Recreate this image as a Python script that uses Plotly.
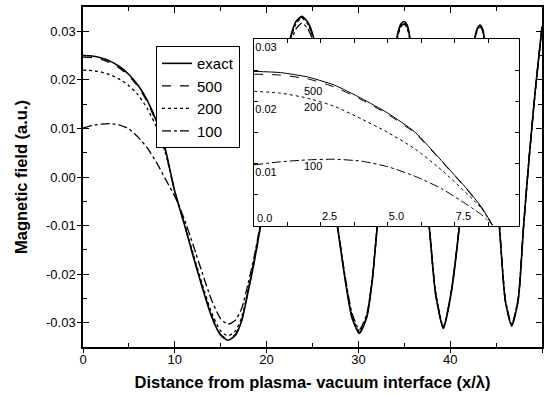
import plotly.graph_objects as go

# ---------------- data ----------------
x_main = [0, 1, 2, 3, 4, 5, 6, 7, 8, 9, 10, 11, 12, 13, 14, 15, 15.8,
          16.6, 17.3, 18, 18.6, 19.4,
          20.3, 21.2, 22.0, 22.6, 23.2, 23.85, 24.5, 25.1, 25.8, 26.5,
          27.0, 27.7, 28.5, 29.3, 30.1, 30.9, 31.5, 32.06, 32.7, 33.4,
          34.2, 34.6, 34.97, 35.3, 35.6, 36.3, 37.0, 37.7, 38.4, 39.25,
          40.1, 41.0, 41.7, 42.2, 42.7, 43.0, 43.25, 43.5, 43.7, 44.3,
          44.9, 45.35, 46.0, 46.7, 47.4, 48.0, 48.6, 49.3, 50]

y_exact = [0.0250, 0.0249, 0.0245, 0.0238, 0.0227, 0.0211, 0.0189, 0.0158, 0.0115, 0.0055,
           -0.0030, -0.0095, -0.0163, -0.0228, -0.0287, -0.0326, -0.0336,
           -0.0326, -0.0295, -0.0235, -0.0180, -0.0095,
           0.0010, 0.0130, 0.0232, 0.0288, 0.0320, 0.0331, 0.0318, 0.0288, 0.0195, 0.0065,
           -0.0025, -0.0100, -0.0205, -0.0290, -0.0322, -0.0290, -0.0215, -0.0100, 0.0030, 0.0175,
           0.0288, 0.0314, 0.0320, 0.0313, 0.0288, 0.0150, 0.0005, -0.0100, -0.0240, -0.0312,
           -0.0240, -0.0100, 0.0065, 0.0200, 0.0288, 0.0308, 0.0313, 0.0306, 0.0288, 0.0135,
           -0.0015, -0.0100, -0.0255, -0.0307, -0.0255, -0.0100, 0.0040, 0.0185, 0.0310]

y_500 = [0.0247, 0.0246, 0.0242, 0.0235, 0.0224, 0.0208, 0.0186, 0.0155, 0.0112, 0.0052,
         -0.0031, -0.0095, -0.0162, -0.0227, -0.0285, -0.0324, -0.0334,
         -0.0324, -0.0294, -0.0234, -0.0179, -0.0094,
         0.0010, 0.0129, 0.0230, 0.0286, 0.0318, 0.0329, 0.0316, 0.0286, 0.0194, 0.0064,
         -0.0025, -0.0100, -0.0204, -0.0288, -0.0320, -0.0288, -0.0214, -0.0100, 0.0030, 0.0174,
         0.0287, 0.0313, 0.0319, 0.0312, 0.0287, 0.0150, 0.0005, -0.0100, -0.0239, -0.0311,
         -0.0239, -0.0100, 0.0065, 0.0199, 0.0287, 0.0307, 0.0312, 0.0305, 0.0287, 0.0135,
         -0.0015, -0.0100, -0.0254, -0.0306, -0.0254, -0.0100, 0.0040, 0.0184, 0.0309]

y_200 = [0.0220, 0.0219, 0.0216, 0.0210, 0.0201, 0.0188, 0.0169, 0.0141, 0.0103, 0.0048,
         -0.0030, -0.0092, -0.0158, -0.0221, -0.0279, -0.0317, -0.0327,
         -0.0317, -0.0288, -0.0230, -0.0176, -0.0093,
         0.0010, 0.0127, 0.0226, 0.0283, 0.0315, 0.0327, 0.0314, 0.0285, 0.0193, 0.0064,
         -0.0024, -0.0099, -0.0202, -0.0285, -0.0318, -0.0286, -0.0213, -0.0099, 0.0030, 0.0172,
         0.0285, 0.0311, 0.0317, 0.0310, 0.0286, 0.0149, 0.0005, -0.0099, -0.0238, -0.0310,
         -0.0238, -0.0099, 0.0064, 0.0198, 0.0286, 0.0306, 0.0311, 0.0304, 0.0286, 0.0134,
         -0.0015, -0.0099, -0.0253, -0.0305, -0.0253, -0.0099, 0.0040, 0.0183, 0.0308]

y_100 = [0.0101, 0.0106, 0.0109, 0.0110, 0.0107, 0.0099, 0.0082, 0.0060, 0.0030, -0.0005,
         -0.0040, -0.0085, -0.0140, -0.0198, -0.0253, -0.0292, -0.0303,
         -0.0295, -0.0270, -0.0218, -0.0168, -0.0089,
         0.0010, 0.0122, 0.0218, 0.0274, 0.0305, 0.0317, 0.0305, 0.0277, 0.0188, 0.0062,
         -0.0023, -0.0097, -0.0198, -0.0280, -0.0314, -0.0283, -0.0210, -0.0098, 0.0030, 0.0170,
         0.0282, 0.0308, 0.0315, 0.0307, 0.0283, 0.0148, 0.0005, -0.0098, -0.0236, -0.0308,
         -0.0236, -0.0098, 0.0064, 0.0197, 0.0284, 0.0304, 0.0309, 0.0302, 0.0284, 0.0133,
         -0.0015, -0.0098, -0.0251, -0.0303, -0.0251, -0.0098, 0.0040, 0.0182, 0.0306]

# inset
x_in = [0, 1, 2, 3, 4, 5, 6, 7, 8, 8.5, 8.9]
yi_exact = [0.0248, 0.0246, 0.0239, 0.0226, 0.0205, 0.0181, 0.0151, 0.0105, 0.0057, 0.0030, 0.0002]
yi_500 = [0.02435, 0.0242, 0.0236, 0.0223, 0.0203, 0.0179, 0.0149, 0.0104, 0.0056, 0.0029, 0.0002]
yi_200 = [0.0216, 0.0213, 0.0205, 0.0192, 0.0172, 0.0150, 0.0124, 0.0090, 0.0050, 0.0028, 0.0001]
yi_100 = [0.0098, 0.0103, 0.0106, 0.0107, 0.0104, 0.0095, 0.0080, 0.0060, 0.0033, 0.0018, 0.0002]

series_names = ["exact", "500", "200", "100"]
main_tick_y = [-0.03, -0.02, -0.01, 0.00, 0.01, 0.02, 0.03]
main_tick_y_text = ["-0.03", "-0.02", "-0.01", "0.00", "0.01", "0.02", "0.03"]
main_tick_x = [0, 10, 20, 30, 40, 50]
inset_tick_x = [2.5, 5.0, 7.5]
inset_tick_x_text = ["2.5", "5.0", "7.5"]
inset_origin_label = "0.0"
inset_tick_y = [0.01, 0.02, 0.03]
inset_tick_y_text = ["0.01", "0.02", "0.03"]
inset_labels = ["500", "200", "100"]
inset_label_x = [2.2, 2.2, 2.2]
inset_label_y = [0.0216, 0.0191, 0.0096]

# ---------------- style ----------------
FONT = "Arial, 'Liberation Sans', sans-serif"
INK = "#000000"
dashes = ["solid", "dash", "dot", "dashdot"]
widths = [1.6, 1.3, 1.3, 1.3]
XR = [0, 50]
YR = [-0.035, 0.035]
INSET_DX = [0.3725, 0.950]
INSET_DY = [0.356, 0.906]
IXR = [0, 9.9]
IYR = [0, 0.03]

fig = go.Figure()

main_ys = [y_exact, y_500, y_200, y_100]
for name, ys, d, w in zip(series_names, main_ys, dashes, widths):
    fig.add_trace(go.Scatter(x=x_main, y=ys, mode="lines", name=name,
                             line=dict(color=INK, width=w, dash=d, shape="spline", smoothing=0.6)))

# white panel behind the inset (covers main curves), computed from inset domain
bx0 = XR[0] + INSET_DX[0] * (XR[1] - XR[0])
bx1 = XR[0] + INSET_DX[1] * (XR[1] - XR[0])
by0 = YR[0] + INSET_DY[0] * (YR[1] - YR[0])
by1 = YR[0] + INSET_DY[1] * (YR[1] - YR[0])
fig.add_trace(go.Scatter(x=[bx0, bx1, bx1, bx0, bx0], y=[by0, by0, by1, by1, by0],
                         mode="lines", fill="toself", fillcolor="white",
                         line=dict(width=0, color="white"), showlegend=False, hoverinfo="skip"))

inset_ys = [yi_exact, yi_500, yi_200, yi_100]
for name, ys, d in zip(series_names, inset_ys, dashes):
    fig.add_trace(go.Scatter(x=x_in, y=ys, mode="lines", name=name, showlegend=False,
                             xaxis="x2", yaxis="y2",
                             line=dict(color=INK, width=1.0, dash=d, shape="spline", smoothing=0.6)))

# dummy trace for the overlay (outer tick) axes
fig.add_trace(go.Scatter(x=[None], y=[None], xaxis="x3", yaxis="y3", showlegend=False))

for t, xv, yv in zip(inset_labels, inset_label_x, inset_label_y):
    fig.add_annotation(x=xv, y=yv, xref="x2", yref="y2", text=t, showarrow=False,
                       font=dict(family=FONT, size=11, color=INK))

fig.add_annotation(x=IXR[0], y=IYR[0], xref="x2", yref="y2", text=inset_origin_label,
                   showarrow=False, xanchor="left", yanchor="bottom", xshift=1, yshift=0,
                   font=dict(family=FONT, size=11, color=INK))

fig.update_layout(
    width=547, height=395,
    margin=dict(l=83, r=5, t=7, b=48),
    paper_bgcolor="white", plot_bgcolor="white",
    font=dict(family=FONT, size=13, color=INK),
    showlegend=True,
    legend=dict(x=0.159, y=0.885, xanchor="left", yanchor="top",
                bgcolor="white", bordercolor=INK, borderwidth=1,
                font=dict(family=FONT, size=15, color=INK),
                tracegroupgap=0, itemwidth=30),
    xaxis=dict(range=XR, domain=[0, 1], anchor="y", showgrid=False, zeroline=False,
               showline=True, linecolor=INK, linewidth=1.5, mirror="ticks",
               ticks="inside", ticklen=6, tickwidth=1.2, tickcolor=INK,
               tickvals=main_tick_x, tickfont=dict(size=13, color=INK),
               minor=dict(ticks="inside", ticklen=4, dtick=5, tickwidth=1.2, tickcolor=INK),
               title=dict(text="<b>Distance from plasma- vacuum interface (x/λ)</b>",
                          font=dict(size=16.5, color=INK), standoff=10),
               automargin=False),
    yaxis=dict(range=YR, domain=[0, 1], anchor="x", showgrid=False, zeroline=False,
               showline=True, linecolor=INK, linewidth=1.5, mirror="ticks",
               ticks="inside", ticklen=6, tickwidth=1.2, tickcolor=INK,
               tickvals=main_tick_y, ticktext=main_tick_y_text, tickfont=dict(size=13, color=INK),
               ticklabelstandoff=3,
               minor=dict(ticks="inside", ticklen=4, dtick=0.005, tickwidth=1.2, tickcolor=INK),
               title=dict(text="<b>Magnetic field (a.u.)</b>", font=dict(size=16.5, color=INK),
                          standoff=14),
               automargin=False),
    xaxis3=dict(range=XR, overlaying="x", anchor="y3", showgrid=False, zeroline=False,
                showline=False, ticks="outside", ticklen=5, tickwidth=1.2, tickcolor=INK,
                tickvals=main_tick_x, showticklabels=False),
    yaxis3=dict(range=YR, overlaying="y", anchor="x3", showgrid=False, zeroline=False,
                showline=False, ticks="outside", ticklen=5, tickwidth=1.2, tickcolor=INK,
                tickvals=main_tick_y, showticklabels=False),
    xaxis2=dict(range=IXR, domain=INSET_DX, anchor="y2", showgrid=False, zeroline=False,
                showline=True, linecolor=INK, linewidth=1, mirror="ticks",
                ticks="inside", ticklen=4, tickwidth=1, tickcolor=INK,
                tickvals=inset_tick_x, ticktext=inset_tick_x_text,
                ticklabelposition="inside right", tickfont=dict(size=11, color=INK),
                minor=dict(ticks="inside", ticklen=4, dtick=1.25, tickwidth=1, tickcolor=INK)),
    yaxis2=dict(range=IYR, domain=INSET_DY, anchor="x2", showgrid=False, zeroline=False,
                showline=True, linecolor=INK, linewidth=1, mirror="ticks",
                ticks="inside", ticklen=4, tickwidth=1, tickcolor=INK,
                tickvals=inset_tick_y, ticktext=inset_tick_y_text,
                ticklabelposition="inside bottom", tickfont=dict(size=11, color=INK),
                minor=dict(ticks="inside", ticklen=4, dtick=0.005, tickwidth=1, tickcolor=INK)),
)

fig.write_html("out.html")
